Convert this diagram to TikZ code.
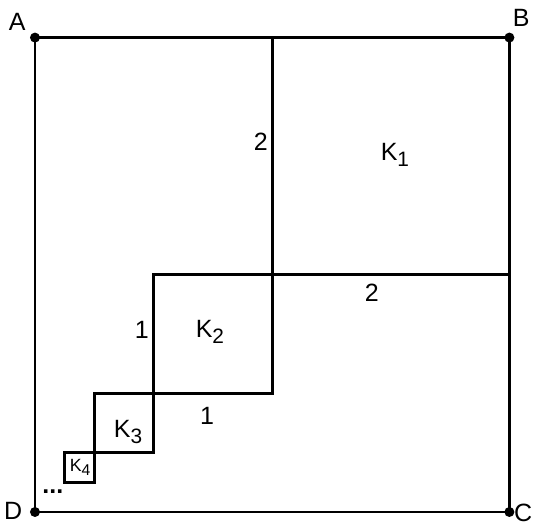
\documentclass[tikz,border=0pt]{standalone}
\usepackage{fontspec}
\setmainfont{Liberation Sans}
\newcommand{\sq}[1]{K\raisebox{-0.5ex}{\fontsize{10}{11}\selectfont #1}}
\begin{document}
\begin{tikzpicture}[line width=1.4pt, every node/.style={font=\fontsize{12}{14}\selectfont, inner sep=0pt}]
  \useasboundingbox (-0.59,-0.2) rectangle (8.415,8.634);
  \coordinate (A) at (0,8);
  \coordinate (B) at (8,8);
  \coordinate (C) at (8,0);
  \coordinate (D) at (0,0);
  \draw (D) rectangle (B);
  \draw (4,8) -- (4,4) -- (8,4);
  \draw (2,2) rectangle (4,4);
  \draw (1,1) rectangle (2,2);
  \draw (0.5,0.5) rectangle (1,1);
  \foreach \p in {A,B,C,D} \fill (\p) circle (2.4pt);
  \node (lA) at (-0.30,8.26) {A};
  \node (lB) at (8.20,8.33) {B};
  \node (lC) at (8.23,-0.02) {C};
  \node (lD) at (-0.37,0.02) {D};
  \node (k1) at (6.07,6.02) {\sq{1}};
  \node (k2) at (2.95,3.04) {\sq{2}};
  \node (k3) at (1.57,1.35) {\sq{3}};
  \node[font=\fontsize{8.5}{9}\selectfont] (k4) at (0.76,0.75) {K\raisebox{-0.5ex}{\fontsize{7.5}{8}\selectfont 4}};
  \node (a2) at (3.81,6.24) {2};
  \node (b2) at (5.68,3.69) {2};
  \node (a1) at (1.80,3.07) {1};
  \node (b1) at (2.90,1.62) {1};
  \node (dots) at (0.30,0.34) {\textbf{...}};
\end{tikzpicture}
\end{document}
